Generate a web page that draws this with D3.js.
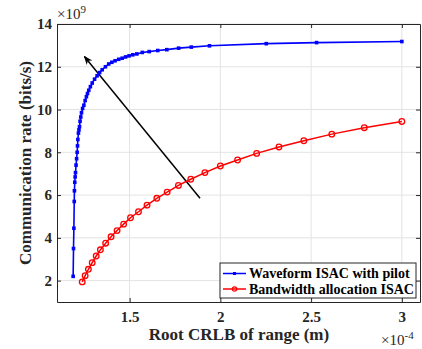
<!DOCTYPE html>
<html>
<head>
<meta charset="utf-8">
<script src="https://cdnjs.cloudflare.com/ajax/libs/d3/7.8.5/d3.min.js"></script>
<style>
  body { margin: 0; background: #fff; }
</style>
</head>
<body>
<div id="chart"></div>
<script>
const chart_width = 422;
const chart_height = 349;
const margin_top = 24;
const margin_right = 2;
const margin_bottom = 47;
const margin_left = 57;
const font = "Liberation Serif";

// root CRLB of range (x 1e-4 m)
const blue_x = [1.189, 1.191, 1.193, 1.195, 1.196, 1.198, 1.200, 1.202, 1.205, 1.208,
  1.211, 1.213, 1.215, 1.218, 1.221, 1.224, 1.227, 1.231, 1.235, 1.241,
  1.248, 1.255, 1.262, 1.268, 1.275, 1.284, 1.294, 1.307, 1.321, 1.335,
  1.349, 1.367, 1.385, 1.402, 1.420, 1.440, 1.459, 1.478, 1.497, 1.518,
  1.540, 1.570, 1.608, 1.655, 1.705, 1.770, 1.840, 1.940, 2.253, 2.530, 3.000];
// communication rate (x 1e9 bits/s)
const blue_y = [2.2, 3.5, 4.45, 5.7, 6.2, 6.6, 6.85, 7.05, 7.4, 7.7,
  8.0, 8.3, 8.6, 8.9, 9.05, 9.2, 9.45, 9.65, 9.85, 10.05,
  10.2, 10.42, 10.6, 10.75, 10.9, 11.07, 11.24, 11.42, 11.58, 11.73,
  11.86, 12.0, 12.13, 12.21, 12.28, 12.35, 12.4, 12.46, 12.51, 12.56,
  12.6, 12.67, 12.71, 12.76, 12.8, 12.87, 12.92, 12.98, 13.08, 13.13, 13.18];

const red_x = [1.239, 1.255, 1.273, 1.294, 1.316, 1.339, 1.368, 1.398, 1.431, 1.467,
  1.505, 1.549, 1.596, 1.650, 1.707, 1.769, 1.837, 1.915, 2.000, 2.095,
  2.200, 2.323, 2.460, 2.614, 2.793, 3.000];
const red_y = [1.94, 2.23, 2.53, 2.84, 3.15, 3.44, 3.75, 4.05, 4.34, 4.64,
  4.94, 5.22, 5.53, 5.85, 6.14, 6.45, 6.74, 7.05, 7.36, 7.64,
  7.95, 8.25, 8.54, 8.85, 9.15, 9.44];

const x_ticks = [1.5, 2, 2.5, 3];
const y_ticks = [2, 4, 6, 8, 10, 12, 14];
const series_names = ["Waveform ISAC with pilot", "Bandwidth allocation ISAC"];
// arrow annotation: tail -> head, in data units
const arrow_from = [1.888, 5.85];
const arrow_to = [1.251, 12.48];

const svg = d3.select("#chart")
    .append("svg")
    .attr("width", chart_width)
    .attr("height", chart_height)
    .attr("font-family", font)
    .attr("font-weight", "bold");

const x = d3.scaleLinear()
    .domain([1.1, 3.1])
    .range([margin_left, chart_width - margin_right]);

const y = d3.scaleLinear()
    .domain([1, 14])
    .range([chart_height - margin_bottom, margin_top]);

const plot_bottom = chart_height - margin_bottom;
const plot_right = chart_width - margin_right;

// grid
svg.append("g")
    .selectAll("line")
    .data(x_ticks)
    .join("line")
    .attr("x1", d => x(d)).attr("x2", d => x(d))
    .attr("y1", margin_top).attr("y2", plot_bottom)
    .attr("stroke", "#e3e3e3");

svg.append("g")
    .selectAll("line")
    .data(y_ticks)
    .join("line")
    .attr("x1", margin_left).attr("x2", plot_right)
    .attr("y1", d => y(d)).attr("y2", d => y(d))
    .attr("stroke", "#e3e3e3");

// axes with inward ticks (all four sides)
const tick_len = 4;
function styleAxis(g) {
    g.attr("font-family", font).attr("font-size", 15).attr("font-weight", "bold");
    g.select(".domain").attr("stroke", "#262626");
    g.selectAll(".tick line").attr("stroke", "#262626");
    g.selectAll(".tick text").attr("fill", "#262626");
}

svg.append("g")
    .attr("transform", `translate(0,${plot_bottom})`)
    .call(d3.axisBottom(x).tickValues(x_ticks).tickFormat(d3.format("")).tickSizeInner(-tick_len).tickSizeOuter(0).tickPadding(9))
    .call(styleAxis);

svg.append("g")
    .attr("transform", `translate(0,${margin_top})`)
    .call(d3.axisTop(x).tickValues(x_ticks).tickFormat("").tickSizeInner(-tick_len).tickSizeOuter(0))
    .call(styleAxis);

svg.append("g")
    .attr("transform", `translate(${margin_left},0)`)
    .call(d3.axisLeft(y).tickValues(y_ticks).tickSizeInner(-tick_len).tickSizeOuter(0).tickPadding(5))
    .call(styleAxis);

svg.append("g")
    .attr("transform", `translate(${plot_right},0)`)
    .call(d3.axisRight(y).tickValues(y_ticks).tickFormat("").tickSizeInner(-tick_len).tickSizeOuter(0))
    .call(styleAxis);

// exponent labels
const exp9 = svg.append("text")
    .attr("x", margin_left)
    .attr("y", 19)
    .attr("fill", "#262626")
    .attr("font-size", 15)
    .attr("font-weight", "normal");
exp9.append("tspan").text("×10");
exp9.append("tspan").attr("dy", -6).attr("font-size", 11).text("9");

const exp4 = svg.append("text")
    .attr("x", 381)
    .attr("y", 345)
    .attr("fill", "#262626")
    .attr("font-size", 15)
    .attr("font-weight", "normal");
exp4.append("tspan").text("×10");
exp4.append("tspan").attr("dy", -6).attr("font-size", 11).text("-4");

// axis titles
svg.append("text")
    .attr("x", 239)
    .attr("y", 340)
    .attr("text-anchor", "middle")
    .attr("fill", "#262626")
    .attr("font-size", 17)
    .text("Root CRLB of range (m)");

svg.append("text")
    .attr("transform", `translate(31,${(margin_top + plot_bottom) / 2}) rotate(-90)`)
    .attr("text-anchor", "middle")
    .attr("fill", "#262626")
    .attr("font-size", 17)
    .text("Communication rate (bits/s)");

// arrow
svg.append("defs").append("marker")
    .attr("id", "head")
    .attr("viewBox", "0 0 10 10")
    .attr("refX", 9).attr("refY", 5)
    .attr("markerWidth", 9).attr("markerHeight", 9)
    .attr("markerUnits", "userSpaceOnUse")
    .attr("orient", "auto")
    .append("path")
    .attr("d", "M0,1 L10,5 L0,9 L3,5 Z")
    .attr("fill", "#000");

svg.append("line")
    .attr("x1", x(arrow_from[0])).attr("y1", y(arrow_from[1]))
    .attr("x2", x(arrow_to[0])).attr("y2", y(arrow_to[1]))
    .attr("stroke", "#000")
    .attr("stroke-width", 1.5)
    .attr("marker-end", "url(#head)");

// series
const blue_data = blue_x.map((v, i) => ({ x: v, y: blue_y[i] }));
const red_data = red_x.map((v, i) => ({ x: v, y: red_y[i] }));

const line = d3.line().x(d => x(d.x)).y(d => y(d.y));

svg.append("path")
    .datum(red_data)
    .attr("d", line)
    .attr("fill", "none")
    .attr("stroke", "#ff0000")
    .attr("stroke-width", 1.5);

svg.selectAll(".red_dot")
    .data(red_data)
    .join("circle")
    .attr("class", "red_dot")
    .attr("cx", d => x(d.x))
    .attr("cy", d => y(d.y))
    .attr("r", 2.8)
    .attr("fill", "none")
    .attr("stroke", "#ff0000")
    .attr("stroke-width", 1.3);

svg.append("path")
    .datum(blue_data)
    .attr("d", line)
    .attr("fill", "none")
    .attr("stroke", "#0000ff")
    .attr("stroke-width", 1.6);

svg.selectAll(".blue_dot")
    .data(blue_data)
    .join("rect")
    .attr("class", "blue_dot")
    .attr("x", d => x(d.x) - 1.8)
    .attr("y", d => y(d.y) - 1.8)
    .attr("width", 3.6)
    .attr("height", 3.6)
    .attr("fill", "#0000ff");

// legend
const legend = svg.append("g").attr("transform", "translate(220,263)");
legend.append("rect")
    .attr("width", 196).attr("height", 35)
    .attr("fill", "#fff")
    .attr("stroke", "#262626")
    .attr("stroke-width", 1);

const legend_colors = ["#0000ff", "#ff0000"];
series_names.forEach((name, i) => {
    const ly = 10.5 + i * 15.5;
    legend.append("line")
        .attr("x1", 3).attr("x2", 26)
        .attr("y1", ly).attr("y2", ly)
        .attr("stroke", legend_colors[i])
        .attr("stroke-width", 1.5);
    if (i === 0) {
        legend.append("rect")
            .attr("x", 13).attr("y", ly - 1.5)
            .attr("width", 3).attr("height", 3)
            .attr("fill", legend_colors[i]);
    } else {
        legend.append("circle")
            .attr("cx", 14.5).attr("cy", ly).attr("r", 2.2)
            .attr("fill", "none")
            .attr("stroke", legend_colors[i])
            .attr("stroke-width", 1.2);
    }
    legend.append("text")
        .attr("x", 29)
        .attr("y", ly + 4.5)
        .attr("fill", "#000")
        .attr("font-size", 14)
        .text(name);
});
</script>
</body>
</html>
